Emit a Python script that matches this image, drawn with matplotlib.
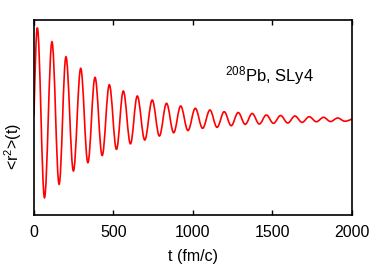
# Import libraries
import numpy as np
import matplotlib.pyplot as plt
from matplotlib.path import Path
from matplotlib.patches import PathPatch

# Plot styling
plt.rcParams.update({
    "font.family": ["Liberation Sans", "DejaVu Sans"],
    "mathtext.fontset": "custom",
    "mathtext.rm": "Liberation Sans",
    "mathtext.it": "Liberation Sans:italic",
    "mathtext.default": "regular",
    "figure.facecolor": "white",
})

line_color = "red"

# =============================
# Data (arbitrary units, no y scale shown)
# =============================
t_start, v_start = 0, 0.3
t_peaks = [21, 113, 201, 294, 384, 474, 562, 650, 744, 834, 923,
           1015, 1107, 1197, 1285, 1373, 1462, 1552, 1642, 1732, 1822, 1911]
v_peaks = [9.03, 7.63, 6.13, 4.97, 4.07, 3.33, 2.70, 2.20, 1.80, 1.47, 1.20,
           0.97, 0.80, 0.63, 0.55, 0.45, 0.30, 0.25, 0.20, 0.13, 0.07, 0.0]
t_troughs = [66, 158, 248, 339, 429, 519, 607, 697, 789, 879, 969,
             1061, 1152, 1241, 1329, 1418, 1507, 1597, 1687, 1777, 1866, 1956]
v_troughs = [-7.97, -6.63, -5.30, -4.47, -3.75, -3.13, -2.58, -2.20, -1.80, -1.47, -1.25,
             -1.03, -0.93, -0.77, -0.63, -0.60, -0.53, -0.50, -0.43, -0.37, -0.35, -0.32]
t_end, v_end = 2000, -0.1

# Extrema in time order
t_ext, v_ext = [], []
for tp, vp, tt, vt in zip(t_peaks, v_peaks, t_troughs, v_troughs):
    t_ext += [tp, tt]
    v_ext += [vp, vt]

# Smooth path through the extrema (cubic Bezier pieces, flat at each extremum)
a = 1 - 2 / np.pi
h = t_ext[0] - t_start
verts = [(t_start, v_start),
         (t_start + h / 3, v_start + (v_ext[0] - v_start) * np.pi / 6),
         (t_ext[0] - a * h, v_ext[0]),
         (t_ext[0], v_ext[0])]
for i in range(1, len(t_ext)):
    h = t_ext[i] - t_ext[i - 1]
    verts += [(t_ext[i - 1] + a * h, v_ext[i - 1]),
              (t_ext[i] - a * h, v_ext[i]),
              (t_ext[i], v_ext[i])]
h = t_end - t_ext[-1]
verts += [(t_ext[-1] + a * h, v_ext[-1]),
          (t_end - h / 3, v_end - (v_end - v_ext[-1]) * np.pi / 6),
          (t_end, v_end)]
codes = [Path.MOVETO] + [Path.CURVE4] * (len(verts) - 1)

# =============================
# Figure
# =============================
fig = plt.figure(figsize=(3.82, 2.68), dpi=100)
ax = fig.add_axes([0.089, 0.198, 0.832, 0.727])

ax.add_patch(PathPatch(Path(verts, codes), fill=False, edgecolor=line_color,
                       linewidth=1.2, capstyle="round"))

ax.set_xlim(0, 2000)
ax.set_ylim(-9.7, 9.8)
ax.set_xticks([0, 500, 1000, 1500, 2000])
ax.set_yticks([])
ax.tick_params(axis="x", direction="in", length=3.5, width=1, top=True,
               labelsize=11.5, pad=7)
for spine in ax.spines.values():
    spine.set_linewidth(1.2)

ax.set_xlabel("t (fm/c)", fontsize=11.5, labelpad=7)
ax.set_ylabel(r"<r$^2$>(t)", fontsize=11.5)
ax.yaxis.set_label_coords(-0.033, 0.35)

ax.text(1480, 4.3, r"$^{208}$Pb, SLy4", fontsize=12, ha="center", va="center")

fig.savefig("out.png", dpi=100)
